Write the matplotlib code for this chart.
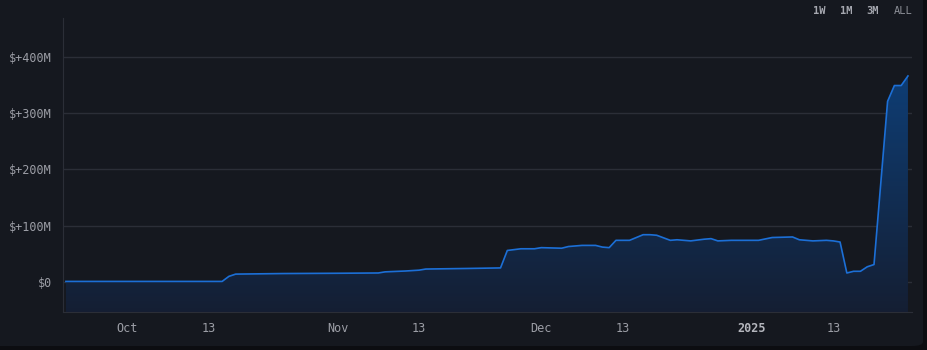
import numpy as np
import matplotlib.pyplot as plt
import matplotlib.dates as mdates
from matplotlib.patches import FancyBboxPatch
from datetime import date

# valori (milioane $)
dates = ["2024-09-22", "2024-10-15", "2024-10-16", "2024-10-17", "2024-10-24",
         "2024-11-01", "2024-11-07", "2024-11-08", "2024-11-11", "2024-11-13",
         "2024-11-14", "2024-11-20", "2024-11-25", "2024-11-26", "2024-11-28",
         "2024-11-30", "2024-12-01", "2024-12-04", "2024-12-05", "2024-12-07",
         "2024-12-09", "2024-12-10", "2024-12-11", "2024-12-12", "2024-12-14",
         "2024-12-16", "2024-12-17", "2024-12-18", "2024-12-20", "2024-12-21",
         "2024-12-23", "2024-12-25", "2024-12-26", "2024-12-27", "2024-12-29",
         "2024-12-31", "2025-01-02", "2025-01-04", "2025-01-07", "2025-01-08",
         "2025-01-10", "2025-01-12", "2025-01-13", "2025-01-14", "2025-01-15",
         "2025-01-16", "2025-01-17", "2025-01-18", "2025-01-19", "2025-01-21",
         "2025-01-22", "2025-01-23", "2025-01-24"]
values = [1, 1, 10, 14, 15,
          15.5, 16, 18, 19.5, 21,
          23, 24, 25, 56, 59,
          59, 61, 60, 63, 65,
          65, 62, 61, 74, 74,
          84, 84, 83, 74, 75,
          73, 76, 77, 73, 74,
          74, 74, 79, 80, 75,
          73, 74, 73, 71, 16,
          19, 19, 27, 31, 321,
          349, 349, 366]

y_ticks = [0, 100, 200, 300, 400]
y_labels = ["$0", "$+100M", "$+200M", "$+300M", "$+400M"]
x_ticks = ["2024-10-01", "2024-10-13", "2024-11-01", "2024-11-13",
           "2024-12-01", "2024-12-13", "2025-01-01", "2025-01-13"]
x_labels = ["Oct", "13", "Nov", "13", "Dec", "13", "2025", "13"]
ranges = ["1W", "1M", "3M", "ALL"]

bg = "#15181f"
grid_c = "#2b2e37"
txt_c = "#9c9ea6"
line_c = "#1c6fd6"

x = mdates.date2num(np.array(dates, dtype="datetime64[D]"))
y = np.array(values)

fig = plt.figure(figsize=(9.28, 3.5), dpi=100, facecolor="#0c0d11")
# cardul de fundal, doar coltul din dreapta-jos e rotunjit vizibil
card = FancyBboxPatch((-0.05, 4 / 350), 0.05 + 923 / 928, 1.1,
                      boxstyle="round,pad=0,rounding_size=0.012",
                      transform=fig.transFigure, facecolor=bg, edgecolor="none", zorder=-10)
fig.patches.append(card)

ax = fig.add_axes([0.0679, 0.1086, 0.9149, 0.84])
ax.set_facecolor("none")

x0 = mdates.date2num(date(2024, 9, 21)) + 0.57
x1 = mdates.date2num(date(2025, 1, 24)) + 0.6
y0, y1 = -53.3, 469

# umplere cu gradient
poly = ax.fill_between(x, y, y0, color="none", lw=0)
grad = np.linspace(0, 1, 256)
cols = np.zeros((256, 1, 4))
top = np.array([0.05, 0.27, 0.52])
bot = np.array([0.08, 0.12, 0.20])
cols[:, 0, :3] = bot + (top - bot) * grad[:, None]
cols[..., 3] = 1.0
img = ax.imshow(cols, extent=[x[0], x[-1], y0, y1], origin="lower",
                aspect="auto", zorder=1)
img.set_clip_path(poly.get_paths()[0], transform=ax.transData)
ax.set_xlim(x0, x1)
ax.set_ylim(y0, y1)

ax.plot(x, y, color=line_c, lw=1.2, zorder=3)

ax.set_yticks(y_ticks)
ax.set_yticklabels(y_labels)
ax.set_xticks(mdates.date2num(np.array(x_ticks, dtype="datetime64[D]")))
ax.set_xticklabels(x_labels)
ax.grid(axis="y", color=grid_c, lw=1)
ax.set_axisbelow(True)
ax.tick_params(length=0, colors=txt_c, labelsize=8.5)
ax.tick_params(axis="y", pad=8)
ax.tick_params(axis="x", pad=7)
for lab in ax.get_xticklabels() + ax.get_yticklabels():
    lab.set_fontfamily("DejaVu Sans Mono")
for lab in ax.get_xticklabels():
    if lab.get_text() == "2025":
        lab.set_fontweight("bold")
        lab.set_color("#b4b6bd")

for s in ["top", "right"]:
    ax.spines[s].set_visible(False)
for s in ["left", "bottom"]:
    ax.spines[s].set_color(grid_c)

# butoane interval
for xp, t in zip([819.7, 846.3, 873, 902.8], ranges):
    fig.text(xp / 928, 1 - 11 / 350, t, ha="center", va="center",
             fontsize=7.5, family="DejaVu Sans Mono",
             color="#8d9098" if t == "ALL" else "#a6a8b0",
             fontweight="normal" if t == "ALL" else "bold")

fig.savefig("out.png", dpi=100, facecolor=fig.get_facecolor())
